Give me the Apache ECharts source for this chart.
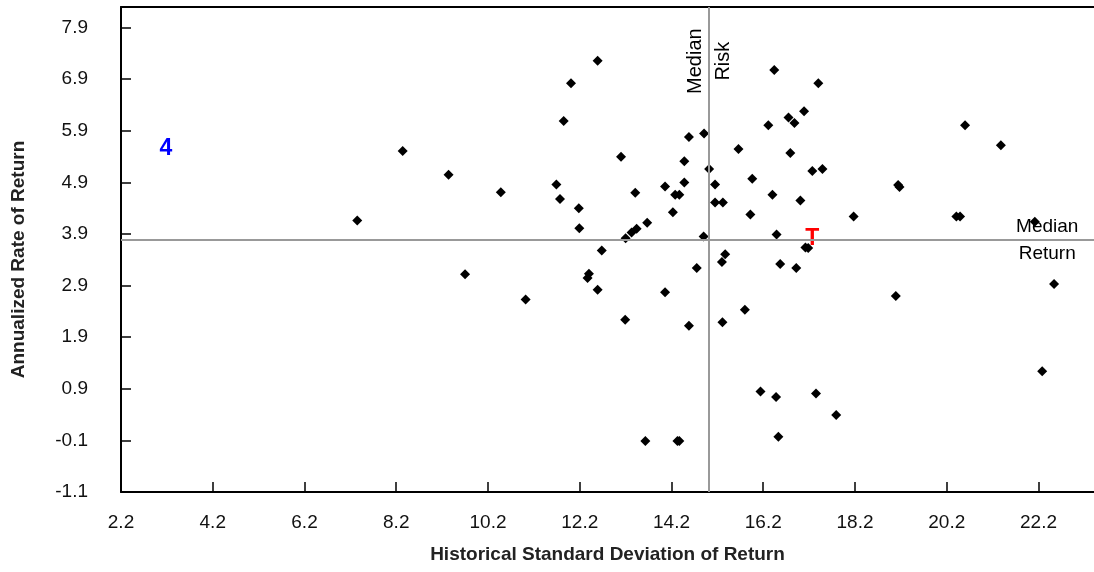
<!DOCTYPE html>
<html>
<head>
<meta charset="utf-8">
<script src="https://cdn.jsdelivr.net/npm/echarts@6/dist/echarts.min.js"></script>
<style>
html,body{margin:0;padding:0;background:#fff;}
#chart{width:1094px;height:572px;}
</style>
</head>
<body>
<div id="chart"></div>
<script>
// Historical standard deviation of return (risk) for each fund
const riskX = [7.35, 8.34, 9.34, 9.70, 10.48, 11.02, 11.69, 11.77, 11.85, 12.01,
  12.18, 12.19, 12.37, 12.40, 12.59, 12.59, 12.68, 13.10, 13.19, 13.20,
  13.33, 13.44, 13.41, 13.67, 13.63, 14.06, 14.06, 14.23, 14.28, 14.37,
  14.48, 14.48, 14.58, 14.58, 14.33, 14.37, 14.75, 14.91, 14.90, 15.02,
  15.15, 15.15, 15.32, 15.37, 15.30, 15.31, 15.66, 15.80, 15.92, 15.96,
  16.14, 16.31, 16.40, 16.44, 16.49, 16.48, 16.57, 16.53, 16.75, 16.88,
  16.79, 16.92, 17.01, 17.09, 17.12, 17.18, 17.27, 17.35, 17.40, 17.49,
  17.79, 18.17, 19.09, 19.14, 19.17, 20.41, 20.49, 20.60, 21.38, 22.12,
  22.28, 22.54];
// Annualized rate of return for each fund
const returnY = [4.16, 5.51, 5.05, 3.12, 4.71, 2.63, 4.86, 4.58, 6.09, 6.82,
  4.40, 4.01, 3.05, 3.13, 7.26, 2.82, 3.58, 5.40, 2.24, 3.82,
  3.93, 4.00, 4.70, 4.12, -0.11, 4.82, 2.77, 4.32, 4.66, 4.66,
  5.31, 4.90, 5.78, 2.12, -0.11, -0.11, 3.24, 5.85, 3.85, 5.16,
  4.86, 4.51, 4.51, 3.51, 3.36, 2.19, 5.55, 2.43, 4.28, 4.97,
  0.85, 6.01, 4.66, 7.08, 3.89, 0.74, 3.32, -0.03, 6.16, 6.05,
  5.47, 3.24, 4.55, 6.28, 3.64, 3.63, 5.12, 0.81, 6.82, 5.16,
  0.39, 4.24, 2.70, 4.85, 4.81, 4.24, 4.24, 6.01, 5.62, 4.14,
  1.24, 2.93];

const xTicks = [2.2, 4.2, 6.2, 8.2, 10.2, 12.2, 14.2, 16.2, 18.2, 20.2, 22.2];
const yTicks = [-1.1, -0.1, 0.9, 1.9, 2.9, 3.9, 4.9, 5.9, 6.9, 7.9];

const medianRisk = 15.02;
const medianReturn = 3.78;

// Text annotations
const noteText = ['4', 'T'];
const noteX = [3.18, 17.27];
const noteY = [5.55, 3.81];
const noteColor = ['#0000ff', '#ff0000'];

const medianRiskLabelY = 7.25;
const medianReturnLabelX = 22.39;

const FONT = '"Liberation Sans", Arial, sans-serif';
const points = riskX.map((x, i) => [x, returnY[i]]);
const notes = noteText.map((t, i) => ({
  value: [noteX[i], noteY[i]],
  label: { formatter: t, color: noteColor[i] }
}));

const chart = echarts.init(document.getElementById('chart'));
chart.setOption({
  animation: false,
  backgroundColor: '#fff',
  grid: { left: 121, right: 0, top: 7, bottom: 80, containLabel: false },
  xAxis: [{
    type: 'value', min: 2.2, max: 23.41,
    name: 'Historical Standard Deviation of Return',
    nameLocation: 'middle', nameGap: 53,
    nameTextStyle: { fontFamily: FONT, fontSize: 19, fontWeight: 'bold', color: '#222' },
    axisLine: { show: true, onZero: false, lineStyle: { color: '#000', width: 2 } },
    axisTick: { show: true, inside: true, length: 10, customValues: xTicks, lineStyle: { color: '#000', width: 1.5 } },
    axisLabel: { customValues: xTicks, margin: 21, fontFamily: FONT, fontSize: 19, color: '#111',
      formatter: v => v.toFixed(1) },
    splitLine: { show: false }
  }, {
    type: 'value', position: 'top', min: 2.2, max: 23.41,
    axisLine: { show: true, onZero: false, lineStyle: { color: '#000', width: 2 } },
    axisTick: { show: false }, axisLabel: { show: false }, splitLine: { show: false }
  }],
  yAxis: {
    type: 'value', min: -1.1, max: 8.3,
    name: 'Annualized Rate of Return',
    nameLocation: 'middle', nameGap: 93,
    nameTextStyle: { fontFamily: FONT, fontSize: 19, fontWeight: 'bold', color: '#222', padding: [0, 20, 0, 0] },
    axisLine: { show: true, onZero: false, lineStyle: { color: '#000', width: 2 } },
    axisTick: { show: true, inside: true, length: 10, customValues: yTicks, lineStyle: { color: '#000', width: 1.5 } },
    axisLabel: { customValues: yTicks, margin: 33, fontFamily: FONT, fontSize: 19, color: '#111',
      formatter: v => v.toFixed(1) },
    splitLine: { show: false }
  },
  series: [{
    type: 'scatter',
    symbol: 'diamond',
    symbolSize: 10,
    itemStyle: { color: '#000', opacity: 1 },
    data: points,
    z: 3,
    markLine: {
      silent: true,
      symbol: 'none',
      animation: false,
      label: { show: false },
      lineStyle: { color: '#999', width: 2, type: 'solid', opacity: 1 },
      data: [{ xAxis: medianRisk }, { yAxis: medianReturn }]
    }
  }, {
    type: 'scatter',
    symbolSize: 0,
    silent: true,
    z: 4,
    itemStyle: { opacity: 1 },
    label: { show: true, position: 'inside', fontFamily: FONT, fontSize: 23, fontWeight: 'bold' },
    data: notes
  }, {
    type: 'scatter',
    symbolSize: 0,
    silent: true,
    z: 4,
    itemStyle: { opacity: 1 },
    label: { show: true, position: 'inside', fontFamily: FONT, fontSize: 19, color: '#000',
      lineHeight: 28, align: 'center', verticalAlign: 'middle' },
    data: [
      { value: [medianRisk, medianRiskLabelY], label: { formatter: 'Median\nRisk', rotate: 90, fontSize: 20 } },
      { value: [medianReturnLabelX, medianReturn], label: { formatter: 'Median\nReturn', lineHeight: 27 } }
    ]
  }]
});
</script>
</body>
</html>
